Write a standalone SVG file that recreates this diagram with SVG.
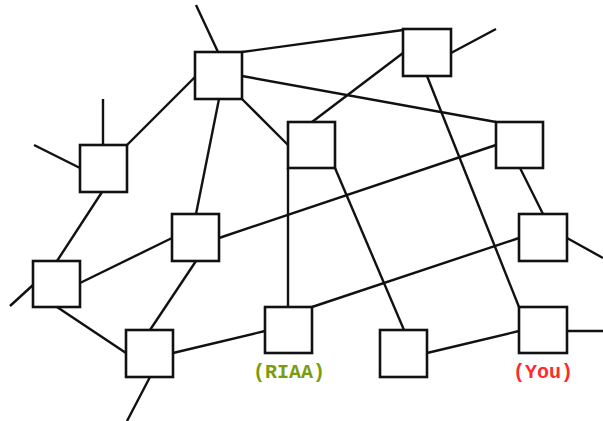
<svg xmlns="http://www.w3.org/2000/svg" width="603" height="421" viewBox="0 0 603 421">
  <style>
    .node rect { fill: #ffffff; stroke: #111111; stroke-width: 2.6; }
    #links line { stroke: #111111; stroke-width: 2.4; stroke-linecap: butt; }
    .lbl { font-family: "Liberation Mono", "Courier New", monospace; font-weight: bold; font-size: 20px; text-anchor: middle; }
  </style>
  <rect width="603" height="421" fill="#ffffff"/>

  <!-- links between nodes, plus stubs leaving the frame -->
  <g id="links">
    <line x1="196" y1="5" x2="218" y2="52"/>
    <line x1="242" y1="52" x2="403" y2="30"/>
    <line x1="242" y1="76" x2="496" y2="122"/>
    <line x1="195" y1="77" x2="127" y2="145"/>
    <line x1="219" y1="99" x2="196" y2="214"/>
    <line x1="242" y1="99" x2="288" y2="145"/>
    <line x1="103" y1="99" x2="103" y2="145"/>
    <line x1="34" y1="145" x2="80" y2="168"/>
    <line x1="102" y1="192" x2="57" y2="261"/>
    <line x1="10" y1="306" x2="33" y2="285"/>
    <line x1="80" y1="283" x2="172" y2="238"/>
    <line x1="57" y1="307" x2="126" y2="353"/>
    <line x1="196" y1="261" x2="150" y2="330"/>
    <line x1="219" y1="238" x2="496" y2="145"/>
    <line x1="150" y1="377" x2="127" y2="421"/>
    <line x1="173" y1="353" x2="265" y2="331"/>
    <line x1="288" y1="307" x2="288" y2="168"/>
    <line x1="312" y1="307" x2="519" y2="238"/>
    <line x1="312" y1="122" x2="403" y2="53"/>
    <line x1="335" y1="168" x2="404" y2="330"/>
    <line x1="451" y1="53" x2="496" y2="29"/>
    <line x1="427" y1="76" x2="519" y2="307"/>
    <line x1="520" y1="168" x2="543" y2="214"/>
    <line x1="567" y1="238" x2="603" y2="258"/>
    <line x1="427" y1="353" x2="519" y2="331"/>
    <line x1="567" y1="331" x2="603" y2="331"/>
  </g>

  <g id="n-a" class="node"><rect x="195" y="52" width="47" height="47"/></g>
  <g id="n-b" class="node"><rect x="80" y="145" width="47" height="47"/></g>
  <g id="n-c" class="node"><rect x="403" y="29" width="48" height="47"/></g>
  <g id="n-d" class="node"><rect x="288" y="122" width="47" height="46"/></g>
  <g id="n-e" class="node"><rect x="496" y="122" width="47" height="46"/></g>
  <g id="n-f" class="node"><rect x="172" y="214" width="47" height="47"/></g>
  <g id="n-g" class="node"><rect x="33" y="261" width="47" height="46"/></g>
  <g id="n-h" class="node"><rect x="126" y="330" width="47" height="47"/></g>
  <g id="n-i" class="node"><rect x="380" y="330" width="47" height="47"/></g>
  <g id="n-j" class="node"><rect x="519" y="214" width="48" height="47"/></g>
  <g id="n-riaa" class="node">
    <rect x="265" y="307" width="47" height="46"/>
    <text class="lbl" x="289" y="378" fill="#7a9c10">(RIAA)</text>
  </g>
  <g id="n-you" class="node">
    <rect x="519" y="307" width="48" height="46"/>
    <text class="lbl" x="543" y="378" fill="#ff2a2a">(You)</text>
  </g>
</svg>
